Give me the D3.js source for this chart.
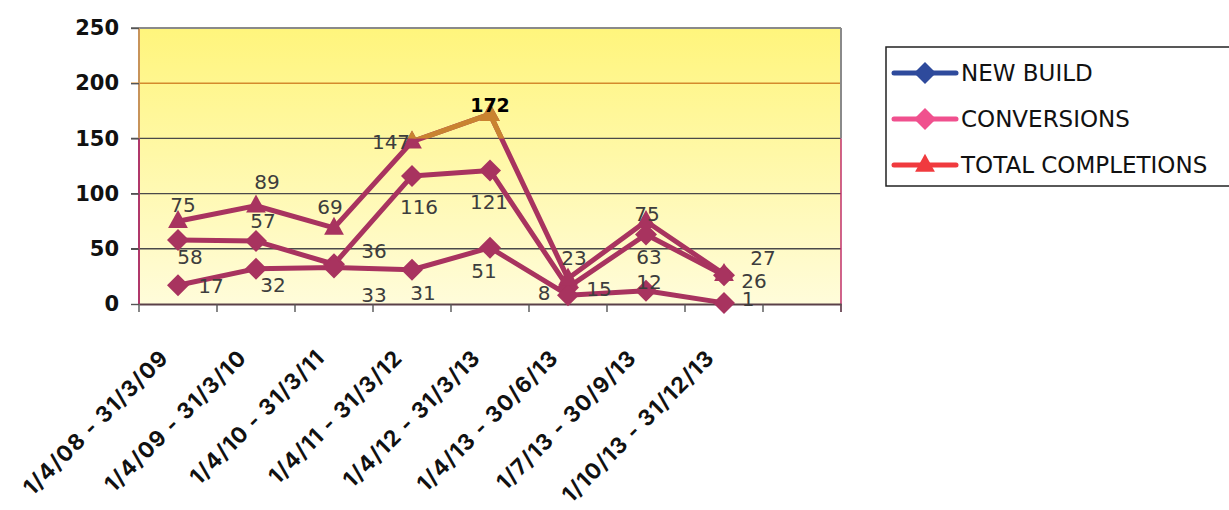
<!DOCTYPE html>
<html><head><meta charset="utf-8">
<script src="https://cdn.jsdelivr.net/npm/d3@7"></script>
<style>body{margin:0;background:#fff}svg{display:block}</style>
</head><body>
<svg id="c" width="1229" height="510"></svg>
<script>
const categories = ["1/4/08 - 31/3/09","1/4/09 - 31/3/10","1/4/10 - 31/3/11","1/4/11 - 31/3/12","1/4/12 - 31/3/13","1/4/13 - 30/6/13","1/7/13 - 30/9/13","1/10/13 - 31/12/13"];
const newBuild = [58,57,36,116,121,15,63,26];
const conversions = [17,32,33,31,51,8,12,1];
const totalCompletions = [75,89,69,147,172,23,75,27];
const yTicks = [0,50,100,150,200,250];
const seriesNames = ["NEW BUILD","CONVERSIONS","TOTAL COMPLETIONS"];

// label placement (layout only)
const offTotal = [[5,-16],[11,-24],[-4,-21],[-21,0],[0,-9],[6,-21],[1,-7],[39,-16]];
const offNew = [[12,17],[7,-20],[40,-13],[7,31],[-1,32],[31,2],[3,23],[30,6]];
const offConv = [[33,1],[17,16],[40,27],[11,23],[-6,23],[-24,-2],[3,-9],[24,-4]];

const svg = d3.select("#c");
const L = 139, R = 841, T = 28, B = 304;
const x = d3.scaleBand().domain(categories.concat([""])).range([L, R]);
const y = d3.scaleLinear().domain([0, 250]).range([B, T]);
const cx = i => x(categories[i]) + x.bandwidth()/2;
const lineCol = "#A8335F", orange = "#C98330";
const font = "'DejaVu Sans', sans-serif";

const defs = svg.append("defs");
const g = defs.append("linearGradient").attr("id","bg").attr("x1",0).attr("y1",0).attr("x2",0).attr("y2",1);
g.append("stop").attr("offset","0").attr("stop-color","#FFF57C");
g.append("stop").attr("offset","0.45").attr("stop-color","#FFF8A6");
g.append("stop").attr("offset","1").attr("stop-color","#FFFCDA");
defs.append("clipPath").attr("id","top").append("rect").attr("x",0).attr("y",0).attr("width",1229).attr("height",y(150));

svg.append("rect").attr("x",L).attr("y",T).attr("width",R-L).attr("height",B-T).attr("fill","url(#bg)");

// gridlines
yTicks.filter(v => v>0 && v<250).forEach(v => {
  svg.append("line").attr("x1",L-8).attr("x2",R).attr("y1",y(v)).attr("y2",y(v))
    .attr("stroke", v===200 ? "#D48A2C" : "#4a4a4a").attr("stroke-width", v===200?1.6:1.4);
});
// frame
svg.append("line").attr("x1",L-8).attr("x2",R).attr("y1",T).attr("y2",T).attr("stroke","#8a8a8a").attr("stroke-width",2);
svg.append("line").attr("x1",R).attr("x2",R).attr("y1",T).attr("y2",y(150)).attr("stroke","#8a8a8a").attr("stroke-width",2);
svg.append("line").attr("x1",R).attr("x2",R).attr("y1",y(150)).attr("y2",B+8).attr("stroke","#C0306A").attr("stroke-width",1.5);
svg.append("line").attr("x1",L).attr("x2",L).attr("y1",T).attr("y2",y(150)).attr("stroke","#C8945A").attr("stroke-width",2);
svg.append("line").attr("x1",L).attr("x2",L).attr("y1",y(150)).attr("y2",B).attr("stroke","#B0386A").attr("stroke-width",2);

// y axis
const yAxis = svg.append("g").attr("transform",`translate(${L},0)`)
  .call(d3.axisLeft(y).tickValues(yTicks).tickSize(8).tickPadding(12));
yAxis.select(".domain").remove();
yAxis.selectAll(".tick line").attr("stroke","#555").attr("stroke-width",1.4);
yAxis.selectAll(".tick text").attr("font-family",font).attr("font-size",21).attr("font-weight","bold").attr("fill","#111");

// x axis
const xAxis = svg.append("g").attr("transform",`translate(0,${B})`)
  .call(d3.axisBottom(x).tickSize(0).tickFormat(""));
xAxis.select(".domain").attr("stroke","#5a4048").attr("stroke-width",2);
xAxis.selectAll(".tick").remove();
const bounds = x.domain().map(d => x(d)).concat([R]);
xAxis.selectAll(".xt").data(bounds).enter().append("line")
  .attr("x1",d=>d).attr("x2",d=>d).attr("y1",0).attr("y2",8).attr("stroke","#555").attr("stroke-width",1.4);
svg.append("g").selectAll("text").data(categories).enter().append("text")
  .attr("transform",(d,i)=>`translate(${cx(i)-8},${B+55}) rotate(-45)`)
  .attr("text-anchor","end").attr("font-family","Inter, 'DejaVu Sans', sans-serif").attr("font-size",22)
  .attr("letter-spacing",1.2).attr("font-weight","bold").attr("fill","#111")
  .text(d=>d);

// lines
const line = d3.line().x((d,i)=>cx(i)).y(d=>y(d));
const diamondPath = r => `M0,${-r}L${r},0L0,${r}L${-r},0Z`;
const triPath = s => `M0,${-s*0.62}L${s*0.55},${s*0.38}L${-s*0.55},${s*0.38}Z`;

function drawSeries(parent, col) {
  [newBuild, conversions, totalCompletions].forEach((s, k) => {
    parent.append("path").datum(s).attr("d",line).attr("fill","none").attr("stroke",col)
      .attr("stroke-width",5).attr("stroke-linejoin","round");
    parent.selectAll(null).data(s).enter().append("path")
      .attr("d", k===2 ? triPath(18) : diamondPath(11))
      .attr("transform",(d,i)=>`translate(${cx(i)},${y(d)})`)
      .attr("fill",col);
  });
}
drawSeries(svg.append("g"), lineCol);
drawSeries(svg.append("g").attr("clip-path","url(#top)"), orange);

// data labels
function labels(s, off, special) {
  svg.append("g").selectAll("text").data(s).enter().append("text")
    .attr("x",(d,i)=>cx(i)+off[i][0]).attr("y",(d,i)=>y(d)+off[i][1])
    .attr("text-anchor","middle").attr("dominant-baseline","central")
    .attr("font-family",font)
    .attr("font-size",(d,i)=> special && special(i) ? 19 : 20)
    .attr("font-weight",(d,i)=> special && special(i) ? "bold" : "normal")
    .attr("fill",(d,i)=> special && special(i) ? "#000" : "#3d3d3d")
    .text(d=>d);
}
labels(newBuild, offNew);
labels(conversions, offConv);
labels(totalCompletions, offTotal, i => i===4);

// legend
const lg = svg.append("g");
lg.append("rect").attr("x",886).attr("y",47).attr("width",360).attr("height",139)
  .attr("fill","#fff").attr("stroke","#222").attr("stroke-width",1.5);
const legCols = ["#2E4A9C","#F0508E","#F03A3E"];
seriesNames.forEach((n,i) => {
  const yy = 73 + i*46;
  lg.append("line").attr("x1",894).attr("x2",956).attr("y1",yy).attr("y2",yy)
    .attr("stroke",legCols[i]).attr("stroke-width",5).attr("stroke-linecap","round");
  lg.append("path").attr("d", i===2 ? triPath(18) : diamondPath(11)).attr("transform",`translate(925,${yy})`).attr("fill",legCols[i]);
  lg.append("text").attr("x",961).attr("y",yy).attr("dominant-baseline","central")
    .attr("font-family",font).attr("font-size",23).attr("fill","#111").text(n);
});
</script>
</body></html>
